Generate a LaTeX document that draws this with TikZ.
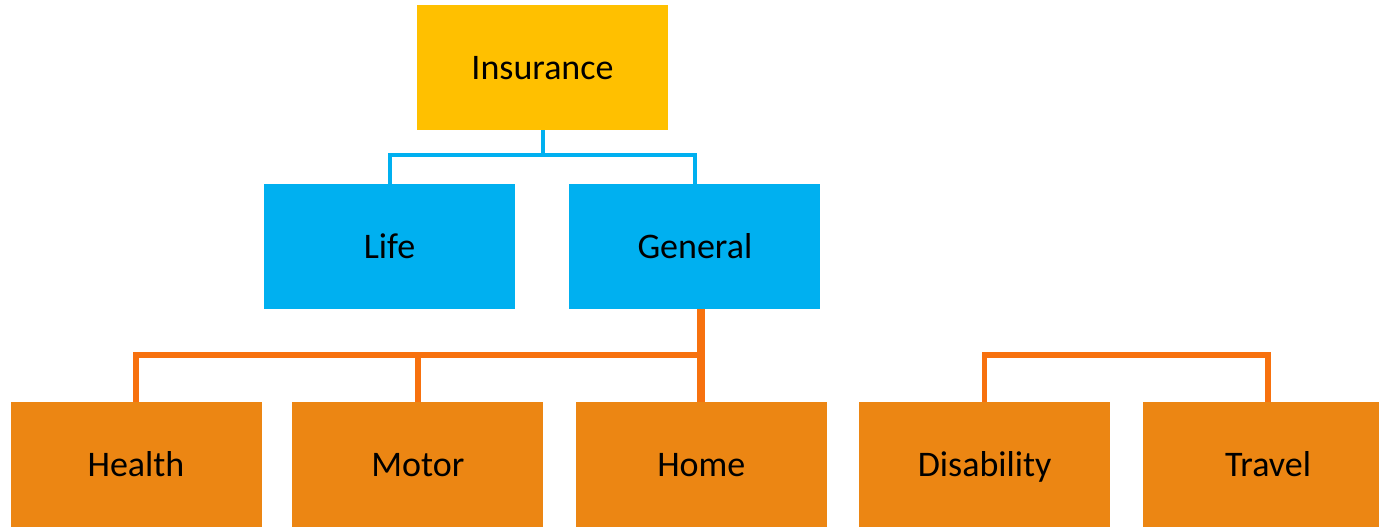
\documentclass[tikz,border=0pt]{standalone}
\usepackage{fontspec}
\setmainfont{Carlito}
\usetikzlibrary{positioning}
\definecolor{insyellow}{HTML}{FFC000}
\definecolor{insblue}{HTML}{00B0F0}
\definecolor{insorange}{HTML}{EC8613}
\definecolor{linkorange}{HTML}{F7710E}
\tikzset{box/.style={minimum width=251pt, minimum height=125pt, inner sep=0pt, text height=30pt, text depth=6pt, font=\fontsize{36}{40}\selectfont},
  blueline/.style={draw=insblue, line width=4pt, line join=miter},
  orangeline/.style={draw=linkorange, line width=5.5pt, line join=miter}}

\begin{document}
\begin{tikzpicture}[x=1pt, y=-1pt]
		\useasboundingbox (0,0) rectangle (1379,527);
		\node(I)[box, fill=insyellow] at (542.5,67.5){Insurance};
		\node(L)[box, fill=insblue] at (389.5,246.5){Life};
		\node(G)[box, fill=insblue, right=54pt of L]{General};
		\node(H)[box, fill=insorange] at (136,464.5){Health};
		\node(M)[box, fill=insorange, right=30.5pt of H]{Motor};
		\node(Ho)[box, fill=insorange, right=32pt of M]{Home};
		\node(D)[box, fill=insorange, right=32pt of Ho]{Disability};
		\node(T)[box, fill=insorange, right=32pt of D]{Travel};
		\coordinate(b) at (542.5,155);
		\coordinate(o) at (700,355);
		\draw[blueline](I.south) -- (b);
		\draw[blueline](L.north) -- (L.north |- b) -- (G.north |- b) -- (G.north);
		\draw[orangeline, line width=8pt](G.south -| Ho.north) -- (Ho.north);
		\draw[orangeline](H.north) -- (H.north |- o) -- (o);
		\draw[orangeline](M.north) -- (M.north |- o);
		\draw[orangeline](D.north) -- (D.north |- o) -- (T.north |- o) -- (T.north);
	\end{tikzpicture}
\end{document}
